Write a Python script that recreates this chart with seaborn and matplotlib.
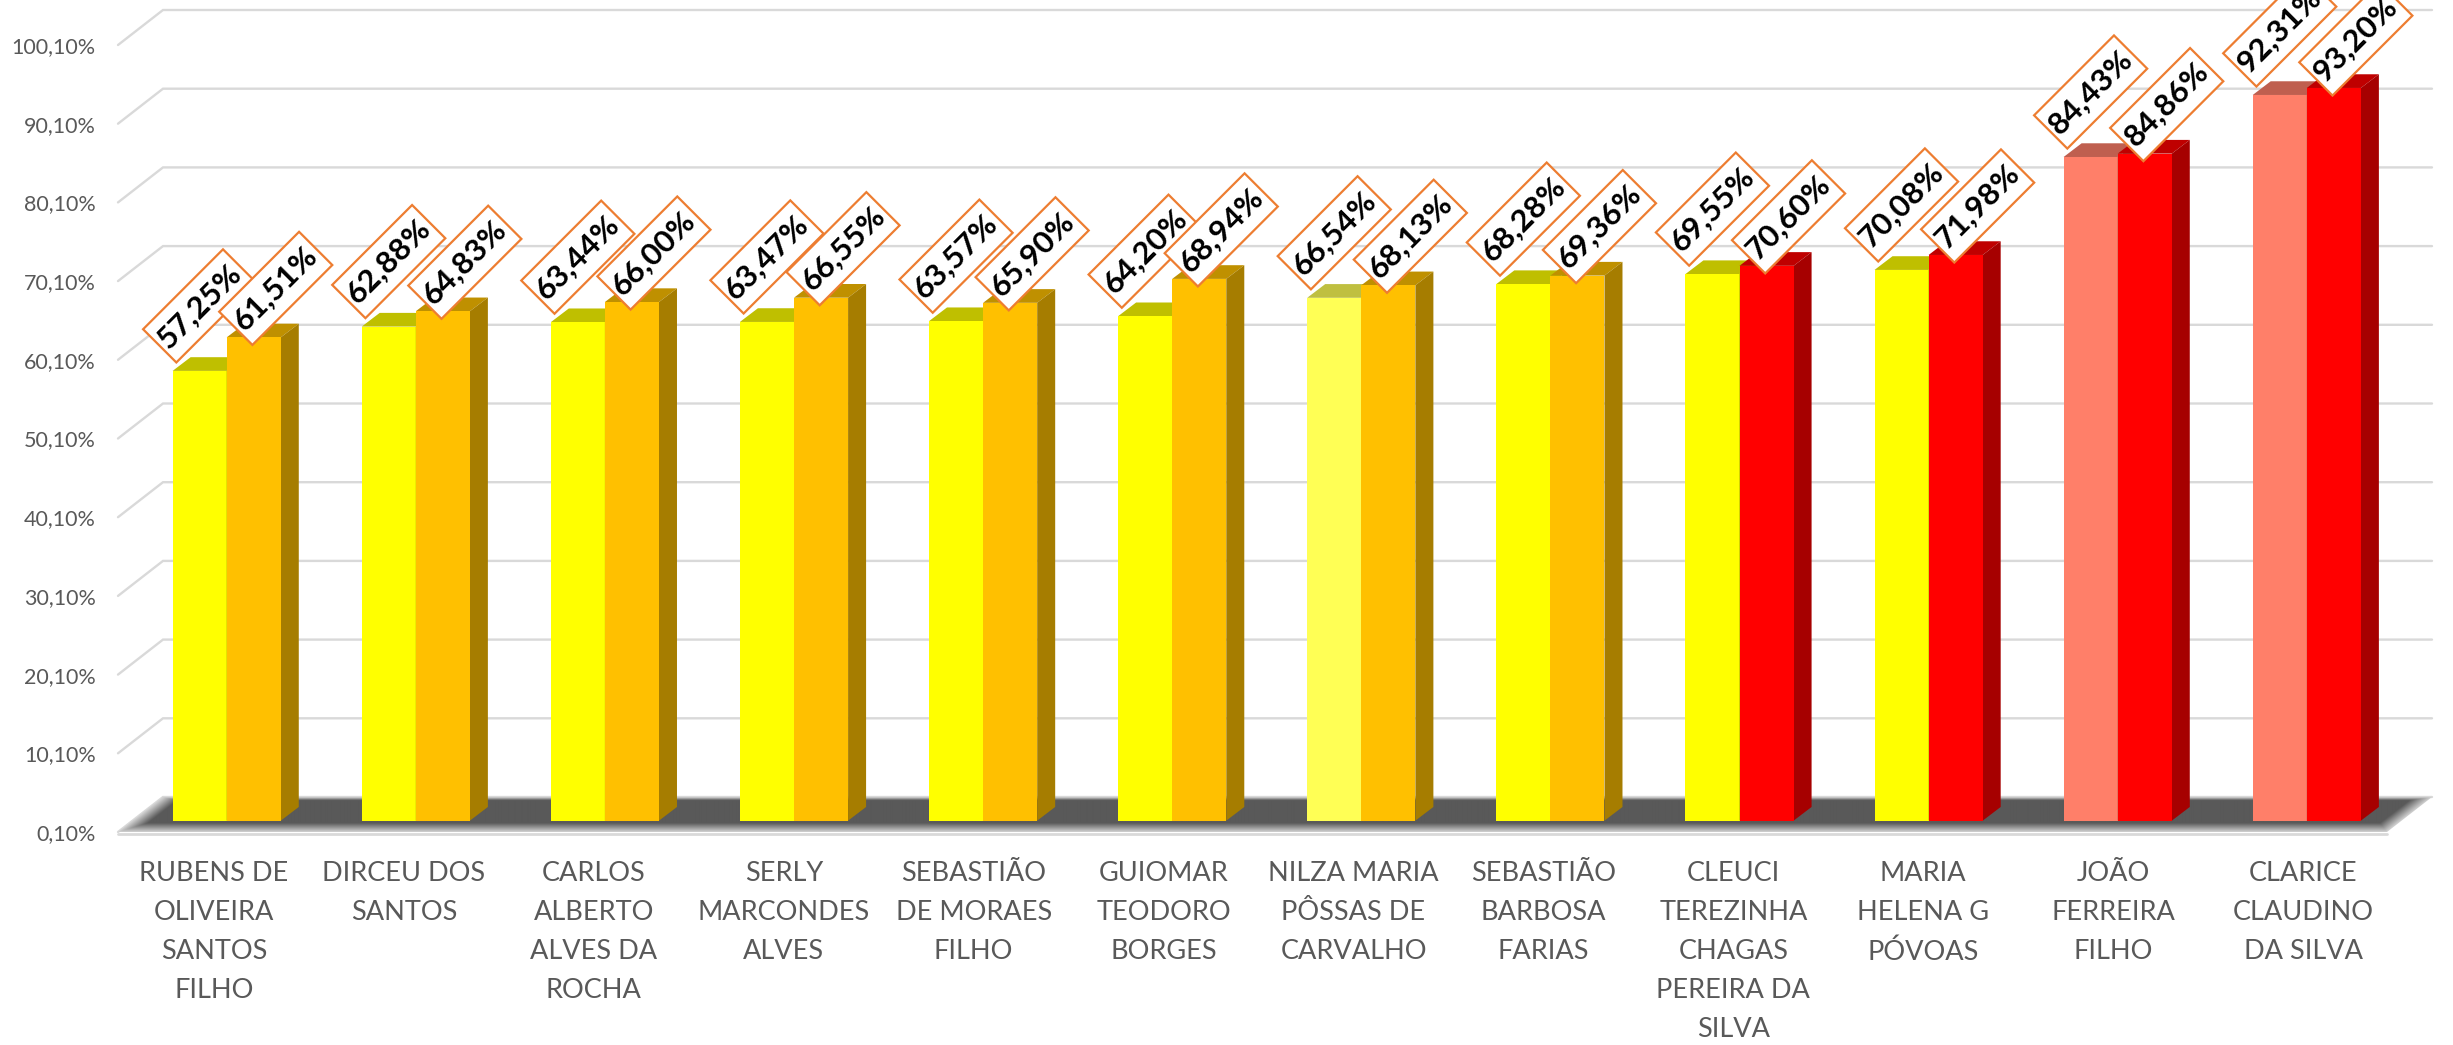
import numpy as np
import pandas as pd
import matplotlib
matplotlib.use('Agg')
import matplotlib.pyplot as plt
import matplotlib.colors as mcolors
from matplotlib.patches import Polygon, Rectangle
from matplotlib.transforms import Affine2D
import seaborn as sns

names = ['RUBENS DE\nOLIVEIRA\nSANTOS\nFILHO', 'DIRCEU DOS\nSANTOS', 'CARLOS\nALBERTO\nALVES DA\nROCHA',
         'SERLY\nMARCONDES\nALVES', 'SEBASTIÃO\nDE MORAES\nFILHO', 'GUIOMAR\nTEODORO\nBORGES',
         'NILZA MARIA\nPÔSSAS DE\nCARVALHO', 'SEBASTIÃO\nBARBOSA\nFARIAS',
         'CLEUCI\nTEREZINHA\nCHAGAS\nPEREIRA DA\nSILVA', 'MARIA\nHELENA G\nPÓVOAS',
         'JOÃO\nFERREIRA\nFILHO', 'CLARICE\nCLAUDINO\nDA SILVA']
values_a = [57.25, 62.88, 63.44, 63.47, 63.57, 64.20, 66.54, 68.28, 69.55, 70.08, 84.43, 92.31]
values_b = [61.51, 64.83, 66.00, 66.55, 65.90, 68.94, 68.13, 69.36, 70.60, 71.98, 84.86, 93.20]
y_ticks = [0.1, 10.1, 20.1, 30.1, 40.1, 50.1, 60.1, 70.1, 80.1, 90.1, 100.1]

YELLOW, PALE, SALMON, ORANGE, RED = '#FFFF00', '#FFFF55', '#FF7F69', '#FFC000', '#FF0000'
colors_a = [YELLOW] * 6 + [PALE] + [YELLOW] * 3 + [SALMON] * 2
colors_b = [ORANGE] * 8 + [RED] * 4

W, H = 2453, 1045
PX_X = 189.1   # px per category
PX_Y = 7.87    # px per percent point
BASE = 0.1
LIFT = 1.44    # bars stand a bit behind the front edge of the floor

sns.set_theme(style='white')
plt.rcParams['font.family'] = ['Lato', 'DejaVu Sans']


def shade(color, k):
    return tuple(c * k for c in mcolors.to_rgb(color))


def pct(v):
    return f'{v:.2f}'.replace('.', ',') + '%'


df = pd.DataFrame({
    'name': names * 2,
    'series': ['a'] * len(names) + ['b'] * len(names),
    'value': values_a + values_b,
})
df['height'] = df['value'] - BASE

fig = plt.figure(figsize=(W / 100, H / 100), dpi=100)
ax = fig.add_axes([118 / W, 1 - 832 / H, (2387 - 118) / W, (832 - 45) / H])

sns.barplot(data=df, x='name', y='height', hue='series', order=names, width=0.572, gap=0,
            bottom=BASE + LIFT, legend=False, linewidth=0, errorbar=None, zorder=3, ax=ax)

x0, x1 = (118 - 226.7) / PX_X, (2387 - 226.7) / PX_X
wall_dx, wall_dy = 45 / PX_X, 35 / PX_Y
bar_dx, bar_dy = 18 / PX_X, 13.7 / PX_Y

# walls
for t in y_ticks:
    ax.plot([x0, x0 + wall_dx, x1 + wall_dx], [t, t + wall_dy, t + wall_dy], color='#D9D9D9', lw=1.7,
            clip_on=False, zorder=1, solid_joinstyle='miter')
ax.plot([x0, x1], [BASE - 0.2, BASE - 0.2], color='#D9D9D9', lw=2, clip_on=False, zorder=1)

# floor, fading out at its edges
xs = np.linspace(x0, x1 + wall_dx, 2400)
depth = np.linspace(0, 1, 70)
gx, gd = np.meshgrid(xs, depth)
from_left = (gx - x0 - gd * wall_dx) * PX_X
from_right = (x1 + gd * wall_dx - gx) * PX_X
fade = np.minimum.reduce([from_left / 18, from_right / 18, gd * 35 / 9, (1 - gd) * 35 / 3])
fade = np.clip(fade, 0, 1)
gray = fade * 0x59 / 255 + (1 - fade) * 0xD0 / 255
floor_img = ax.imshow(np.dstack([gray] * 3), origin='lower', aspect='auto', zorder=2, interpolation='bilinear',
                      extent=(x0, x1 + wall_dx, BASE, BASE + wall_dy))
floor_clip = Polygon([(x0, BASE), (x1, BASE), (x1 + wall_dx, BASE + wall_dy), (x0 + wall_dx, BASE + wall_dy)],
                     transform=ax.transData, facecolor='none', edgecolor='none')
ax.add_patch(floor_clip)
floor_clip.set_clip_on(False)
floor_img.set_clip_path(floor_clip)
floor_img.set_clip_box(fig.bbox)
ax.set_xlim(x0, x1)
ax.set_ylim(BASE, 100.1)

# 3d faces of the bars, taken from the bars seaborn drew
bars = [p for p in ax.patches if isinstance(p, Rectangle)][:2 * len(names)]
bar_colors = colors_a + colors_b
for k, (bar, color) in enumerate(zip(bars, bar_colors)):
    bar.set_facecolor(color)
    bar.set_edgecolor('none')
    is_a = k < len(names)
    bar.set_zorder(4 if is_a else 6)
    left, w = bar.get_x(), bar.get_width()
    top = bar.get_y() + bar.get_height()
    bottom = bar.get_y()
    ax.add_patch(Polygon([(left, top), (left + w, top), (left + w + bar_dx, top + bar_dy), (left + bar_dx, top + bar_dy)],
                         facecolor=shade(color, 0.75), edgecolor='none', zorder=3.5 if is_a else 5, clip_on=False))
    ax.add_patch(Polygon([(left + w, bottom), (left + w + bar_dx, bottom + bar_dy), (left + w + bar_dx, top + bar_dy), (left + w, top)],
                         facecolor=shade(color, 0.65), edgecolor='none', zorder=5, clip_on=False))

# data labels, boxes have a fixed size in pixels
all_values = values_a + values_b
label_offsets = [(0, 65)] * len(names) + [(22, 49)] * len(names)
order = [j for i in range(len(names)) for j in (i, i + len(names))]
for z, k in enumerate(order):
    bar = bars[k]
    dx, dy = label_offsets[k]
    cx, cy = ax.transData.transform((bar.get_x() + bar.get_width() / 2, bar.get_y() + bar.get_height()))
    box_tf = Affine2D().rotate_deg(45).translate(cx + dx, cy + dy)
    fig.add_artist(Rectangle((-56.5, -23.5), 113, 47, transform=box_tf, facecolor='white', edgecolor='#ED7D31',
                             linewidth=1.6, zorder=10 + 2 * z))
    fig.text((cx + dx) / W, (cy + dy) / H, pct(all_values[k]), ha='center', va='center',
             rotation=45, rotation_mode='anchor', fontsize=22.5, fontweight='bold', color='black',
             zorder=11 + 2 * z)

ax.set_yticks(y_ticks, labels=[f'{t:.2f}'.replace('.', ',') + '%' for t in y_ticks])
ax.set_xticks([-0.067 + i * 1.0043 for i in range(len(names))], labels=names)
ax.tick_params(axis='y', length=0, pad=16, labelsize=15.5, labelcolor='#595959')
ax.tick_params(axis='x', length=0, pad=21, labelsize=19.5, labelcolor='#595959')
for label in ax.get_xticklabels():
    label.set_linespacing(1.7)
ax.set_xlabel('')
ax.set_ylabel('')
ax.patch.set_visible(False)
sns.despine(ax=ax, left=True, bottom=True)

fig.savefig('out.png', dpi=100)
